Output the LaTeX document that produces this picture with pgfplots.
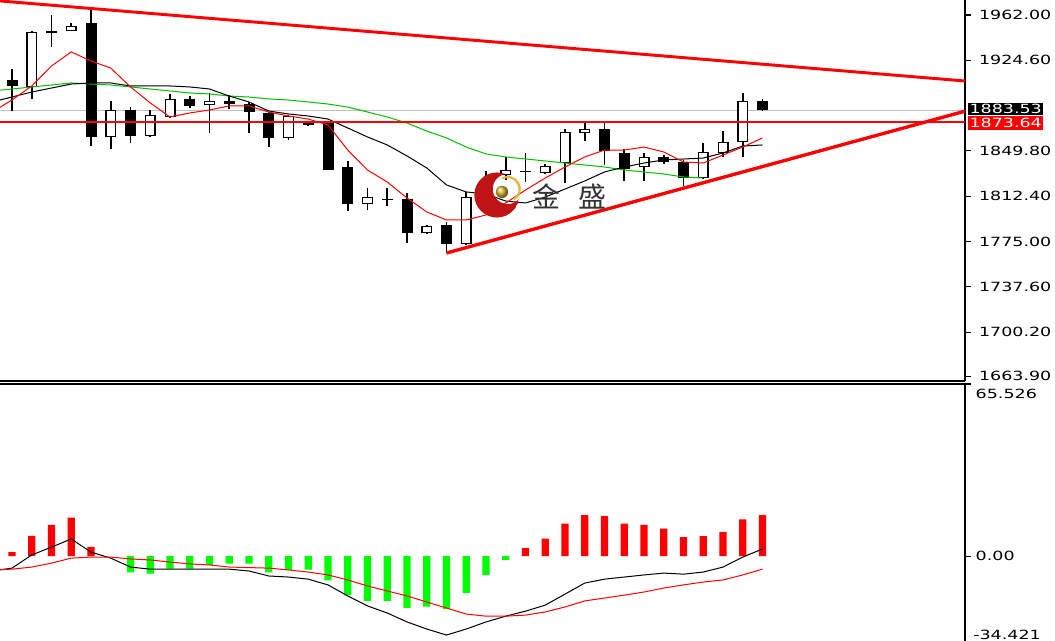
\documentclass[border=0pt]{standalone}
\usepackage{pgfplots}
\pgfplotsset{compat=1.18}
\usepackage{pgfplotstable}
\usetikzlibrary{calc}
\usepackage{fontspec}
\newfontfamily\tickfont[FakeStretch=1.38]{DejaVu Sans}
\newfontfamily\cjk{Noto Sans CJK SC}
\definecolor{magreen}{RGB}{0,190,0}
\definecolor{hgreen}{RGB}{0,255,0}
\definecolor{bidgrey}{RGB}{192,192,192}
\definecolor{logored}{RGB}{190,20,20}
\definecolor{gold}{RGB}{225,185,50}

\pgfplotstableread{
i O H L C
0 1908.3 1917.4 1882.7 1903.4
4 1955.4 1966.1 1853.8 1861.3
6 1883.6 1886.0 1856.3 1862.1
9 1892.7 1895.1 1885.2 1886.9
11 1891.0 1896.0 1884.4 1888.5
12 1888.5 1890.2 1864.6 1881.9
13 1881.1 1881.9 1853.0 1860.5
15 1873.7 1874.5 1870.4 1871.2
16 1872.8 1873.7 1834.0 1834.0
17 1836.5 1841.5 1800.2 1806.0
19 1810.1 1819.2 1804.3 1809.3
20 1810.1 1815.0 1773.8 1782.0
22 1788.6 1791.1 1765.5 1772.9
26 1832.8 1848.1 1824.1 1832.0
30 1867.9 1873.7 1838.2 1849.7
31 1848.1 1851.4 1824.9 1834.9
33 1844.8 1846.4 1839.0 1840.6
34 1840.6 1842.3 1820.8 1827.4
38 1891.0 1892.7 1882.7 1883.5
}\blacks

\pgfplotstableread{
i O H L C
1 1902.6 1948.8 1892.7 1948.0
2 1947.1 1962.0 1935.6 1948.8
3 1948.8 1955.4 1948.8 1952.9
5 1861.3 1891.0 1851.4 1883.6
7 1862.1 1883.6 1861.3 1879.4
8 1877.8 1896.8 1877.0 1892.7
10 1887.7 1897.6 1864.6 1891.0
14 1860.5 1879.4 1858.8 1878.6
18 1806.0 1819.2 1801.0 1811.7
21 1782.0 1788.6 1781.2 1787.8
23 1772.9 1815.9 1772.1 1811.7
24 1811.7 1833.2 1809.3 1826.6
25 1829.9 1844.8 1825.8 1834.0
27 1831.6 1839.0 1830.7 1837.3
28 1839.8 1867.9 1823.3 1865.4
29 1864.6 1873.7 1858.0 1867.9
32 1836.5 1848.1 1824.9 1844.8
35 1827.4 1856.3 1826.6 1848.9
36 1848.1 1866.2 1844.8 1857.1
37 1857.1 1897.6 1844.8 1891.0
}\whites

\pgfplotstableread{
i r k g
-1 1881.9 1890.2 1899.3
0 1891.8 1894.3 1900.9
1 1903.4 1898.4 1902.6
2 1919.9 1901.7 1904.2
3 1931.5 1905.0 1905.9
4 1924.0 1905.9 1905.0
5 1918.2 1905.9 1904.2
6 1902.6 1903.4 1902.6
7 1889.4 1903.4 1900.9
8 1877.8 1903.4 1899.3
9 1881.1 1902.6 1897.6
10 1883.6 1900.9 1896.8
11 1886.9 1895.1 1895.1
12 1886.9 1890.2 1894.3
13 1881.9 1882.7 1892.7
14 1878.6 1880.3 1891.8
15 1876.1 1878.6 1890.2
16 1871.2 1876.1 1888.5
17 1850.5 1868.7 1886.0
18 1834.0 1861.3 1881.9
19 1824.1 1854.7 1877.8
20 1810.9 1845.6 1872.8
21 1799.4 1835.7 1866.2
22 1792.8 1821.7 1860.5
23 1792.8 1815.9 1853.0
24 1796.9 1814.2 1847.3
25 1806.8 1808.4 1844.8
26 1817.5 1806.8 1843.1
27 1827.4 1811.7 1841.5
28 1836.5 1818.3 1839.8
29 1844.8 1825.0 1838.2
30 1850.5 1832.4 1836.5
31 1850.5 1836.5 1834.0
32 1853.0 1839.8 1832.4
33 1848.9 1842.3 1830.7
34 1840.6 1843.1 1828.3
35 1839.8 1843.9 1827.4
36 1846.4 1848.1 nan
37 1853.0 1853.8 nan
38 1860.5 1854.7 nan
}\ma

\pgfplotstableread{
i m s
-1 -5.7 -5.3
0 -4.6 -5.0
1 0.4 -4.2
2 3.4 -2.7
3 6.5 -0.8
4 1.5 -0.4
5 -0.8 -0.4
6 -4.2 -1.1
7 -5.0 -1.5
8 -5.0 -2.3
9 -5.0 -3.0
10 -5.0 -3.4
11 -5.0 -4.2
12 -5.7 -4.4
13 -7.6 -4.6
14 -8.0 -5.3
15 -8.8 -6.1
16 -11.0 -7.2
17 -15.2 -9.1
18 -19.0 -11.4
19 -21.7 -13.3
20 -25.1 -15.2
21 -27.8 -17.5
22 -30.1 -19.8
23 -27.8 -22.1
24 -25.1 -22.9
25 -22.9 -22.9
26 -21.0 -22.5
27 -18.7 -21.3
28 -14.5 -19.4
29 -10.3 -17.1
30 -8.8 -16.0
31 -8.0 -14.9
32 -7.2 -13.7
33 -6.5 -12.2
34 -6.9 -11.0
35 -6.1 -9.9
36 -4.2 -9.1
37 -0.4 -7.2
38 2.7 -5.0
}\macd

\pgfplotstableread{
i h
0 1.5
1 7.7
2 11.9
3 14.6
4 3.5
26 3.0
27 6.6
28 12.3
29 15.6
30 15.2
31 12.3
32 11.9
33 10.4
34 7.2
35 7.6
36 9.1
37 14.0
38 15.6
}\histpos

\pgfplotstableread{
i h
6 -6.2
7 -6.7
8 -4.8
9 -4.8
10 -3.4
11 -2.9
12 -2.9
13 -6.2
14 -5.3
15 -5.2
16 -9.3
17 -14.9
18 -17.1
19 -17.1
20 -19.7
21 -19.3
22 -20.1
23 -14.0
24 -7.2
25 -1.5
}\histneg

\newcommand{\tf}{\tickfont\fontsize{9.5}{10}\selectfont}
\pgfplotsset{candle/.style={only marks, mark size=0pt, mark options={draw=none, fill=none}, forget plot,
  error bars/y dir=plus, error bars/y explicit, error bars/error mark=none}}

\begin{document}
\begin{tikzpicture}
\begin{axis}[
  at={(0pt,194.25pt)}, anchor=south west,
  scale only axis, width=723.75pt, height=285.75pt,
  xmin=-0.6076, xmax=48.253, ymin=1659.83, ymax=1974.38,
  axis x line*=bottom, axis y line*=right,
  axis line style={black, line width=1pt, -},
  xtick=\empty,
  ytick={1663.9,1700.2,1737.6,1775.0,1812.4,1849.8,1924.6,1962.0},
  yticklabels={1663.90,1700.20,1737.60,1775.00,1812.40,1849.80,1924.60,1962.00},
  tick align=outside, major tick length=4.5pt,
  every tick/.style={black, line width=0.8pt},
  yticklabel style={font=\tf, text=black, anchor=west, xshift=2.5pt},
]
\addplot[bidgrey, line width=0.75pt, forget plot] coordinates {(-1,1883.53) (49,1883.53)};
% wicks
\addplot[candle, error bars/error bar style={draw=black, line width=1.2pt}]
  table[x=i, y=L, y error expr=\thisrow{H}-\thisrow{L}] {\blacks};
\addplot[candle, error bars/error bar style={draw=black, line width=1.2pt}]
  table[x=i, y=L, y error expr=\thisrow{H}-\thisrow{L}] {\whites};
% bodies
\addplot[candle, error bars/error bar style={draw=black, line width=8.25pt}]
  table[x=i, y=C, y error expr={max(\thisrow{O}-\thisrow{C},0.9)}] {\blacks};
\addplot[candle, error bars/error bar style={draw=black, line width=8.25pt}]
  table[x=i, y=O, y error expr={max(\thisrow{C}-\thisrow{O},0.9)}] {\whites};
\addplot[candle, error bars/error bar style={draw=white, line width=6.2pt}]
  table[x=i, y expr=\thisrow{O}+1.1, y error expr={max(\thisrow{C}-\thisrow{O}-2.2,0)}] {\whites};
% moving averages
\addplot[magreen, line width=0.75pt] table[x=i, y=g] {\ma};
\addplot[black, line width=0.75pt] table[x=i, y=k] {\ma};
\addplot[red, line width=0.75pt] table[x=i, y=r] {\ma};
% objects
\addplot[red, line width=2.2pt] coordinates {(-0.6076,1973.6) (48.253,1907.5)};
\addplot[red, line width=2.2pt] coordinates {(-0.6076,1873.64) (48.253,1873.64)};
\addplot[red, line width=2.5pt] coordinates {(22.0,1765.5) (48.253,1882.6)};
\coordinate (bidR) at (axis cs:48.253,1883.53);
\coordinate (hlR) at (axis cs:48.253,1873.64);
\coordinate (logo) at (axis cs:24.55,1813.4);
\coordinate (ball) at (axis cs:24.81,1815.9);
\coordinate (jin) at (axis cs:27.04,1812.4);
\coordinate (sheng) at (axis cs:29.37,1812.4);
\end{axis}

% logo
\begin{scope}
  \clip (logo) circle (16.9pt);
  \fill[logored, even odd rule] (logo) circle (16.9pt) ($(logo)+(8.2pt,4.5pt)$) circle (11.3pt);
\end{scope}
\draw[gold, line width=1.6pt] ($(logo)+(8.2pt,4.5pt)$) ++(120:9pt) arc (120:-60:9pt);
\shade[ball color=gold] (ball) circle (4.6pt);
\node[font=\cjk\fontsize{21}{21}\selectfont, text=black!80] at (jin) {金};
\node[font=\cjk\fontsize{21}{21}\selectfont, text=black!80] at (sheng) {盛};

% price labels
\node[anchor=west, fill=black, text=white, inner xsep=1pt, inner ysep=0.9pt, font=\tf] at ([xshift=2.2pt,yshift=0.6pt]bidR) {1883.53};
\node[anchor=west, fill=red, text=white, inner xsep=1pt, inner ysep=1.6pt, font=\tf] at ([xshift=2.2pt,yshift=-0.8pt]hlR) {1873.64};

\begin{axis}[
  at={(0pt,-4.8pt)}, anchor=south west,
  scale only axis, width=723.75pt, height=196.8pt,
  xmin=-0.6076, xmax=48.253, ymin=-34.421, ymax=65.526,
  axis x line*=top, axis y line*=right,
  axis line style={black, line width=1pt, -},
  xtick=\empty,
  ytick={0}, yticklabels={0.00},
  extra y ticks={65.526}, extra y tick labels={65.526},
  extra y tick style={yticklabel style={anchor=north west}},
  tick align=outside, major tick length=4.5pt,
  every tick/.style={black, line width=0.8pt},
  yticklabel style={font=\tf, text=black, anchor=west},
]
\addplot[ybar, bar width=5.5pt, bar shift=0pt, fill=red, draw=none] table[x=i, y=h] {\histpos};
\addplot[ybar, bar width=5.5pt, bar shift=0pt, fill=hgreen, draw=none] table[x=i, y=h] {\histneg};
\addplot[black, line width=0.75pt] table[x=i, y=m] {\macd};
\addplot[red, line width=0.75pt] table[x=i, y=s] {\macd};
\coordinate (minlab) at (axis cs:48.253,-34.421);
\end{axis}
\node[anchor=south west, font=\tf, inner sep=0pt] at ([xshift=6pt,yshift=5.2pt]minlab) {-34.421};

\pgfresetboundingbox
\path[use as bounding box] (0,0) rectangle (791.25pt,480pt);
\end{tikzpicture}
\end{document}
